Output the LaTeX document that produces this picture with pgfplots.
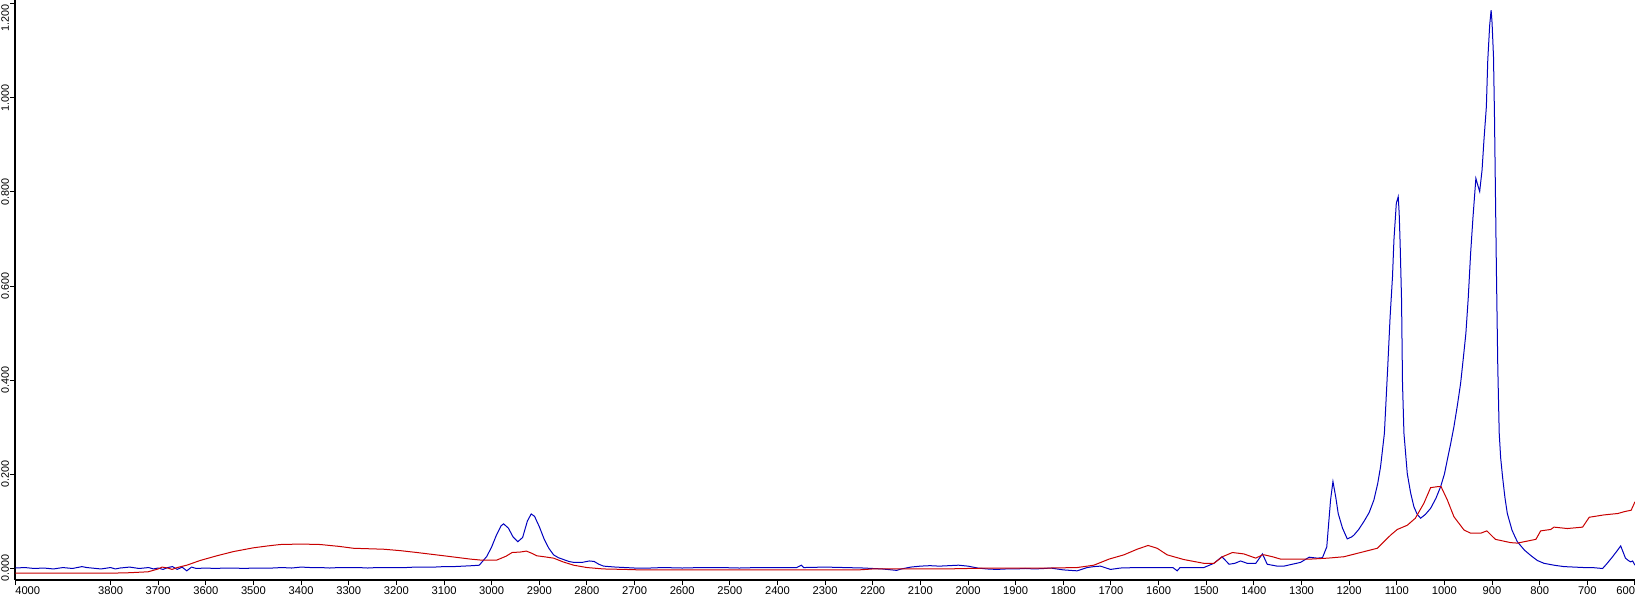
\documentclass[border=0pt]{standalone}
\usepackage{fontspec}
\setmainfont{Liberation Sans}
\usepackage{pgfplots}
\pgfplotsset{compat=1.18}
\definecolor{specblue}{RGB}{0,0,190}
\definecolor{specred}{RGB}{200,0,0}
\begin{document}
\begin{tikzpicture}
\begin{axis}[
  at={(0,0)}, anchor=south west,
  scale only axis, width=809.85pt, height=290pt,
  x dir=reverse, xmin=600, xmax=4000, ymin=-0.0255, ymax=1.2085,
  axis x line*=bottom, axis y line*=left,
  axis line style={line width=1pt, black},
  tick align=outside, major tick length=2.5pt,
  tick style={black, line width=0.5pt},
  /pgf/number format/assume math mode=true,
  xtick={4000,3800,3700,3600,3500,3400,3300,3200,3100,3000,2900,2800,2700,2600,2500,2400,2300,2200,2100,2000,1900,1800,1700,1600,1500,1400,1300,1200,1100,1000,900,800,700,600},
  xticklabels={\makebox[0pt][l]{4000},3800,3700,3600,3500,3400,3300,3200,3100,3000,2900,2800,2700,2600,2500,2400,2300,2200,2100,2000,1900,1800,1700,1600,1500,1400,1300,1200,1100,1000,900,800,700,\makebox[0pt][r]{600}},
  ytick={0,0.2,0.4,0.6,0.8,1.0,1.2},
  yticklabels={0.000,0.200,0.400,0.600,0.800,1.000,\makebox[0pt][r]{1.200}},
  yticklabel style={rotate=90, anchor=south, font=\fontsize{5.4}{6}\selectfont, inner sep=0.4pt},
  xticklabel style={anchor=north, font=\fontsize{5.6}{6}\selectfont, inner sep=0.5pt},
]
\addplot[specblue, line width=0.5pt] coordinates {
(4000,0.000)(3980,0.001)(3960,-0.001)(3940,0.000)(3920,-0.002)(3900,0.001)(3880,-0.001)(3860,0.003)(3850,0.001)(3840,0.000)(3820,-0.002)(3800,0.001)(3790,-0.002)(3780,0.000)(3760,0.002)(3740,-0.001)(3720,0.001)(3710,-0.002)(3700,0.000)(3690,-0.003)(3680,0.001)(3670,0.003)(3660,-0.003)(3650,0.002)(3640,-0.006)(3630,0.002)(3620,-0.001)(3600,0.000)(3580,-0.001)(3560,0.000)(3540,0.000)(3520,-0.001)(3500,0.000)(3480,0.000)(3460,0.000)(3440,0.001)(3420,0.000)(3400,0.002)(3380,0.001)(3360,0.001)(3340,0.000)(3320,0.001)(3300,0.001)(3280,0.001)(3260,0.000)(3240,0.001)(3220,0.001)(3200,0.001)(3180,0.001)(3160,0.002)(3140,0.002)(3120,0.002)(3100,0.003)(3080,0.003)(3060,0.004)(3040,0.005)(3026,0.006)(3010,0.025)(3000,0.045)(2990,0.070)(2980,0.090)(2975,0.094)(2965,0.085)(2955,0.066)(2945,0.056)(2935,0.065)(2925,0.100)(2917,0.115)(2910,0.110)(2900,0.088)(2890,0.062)(2880,0.042)(2870,0.028)(2860,0.022)(2849,0.018)(2838,0.014)(2828,0.012)(2810,0.012)(2795,0.015)(2785,0.014)(2775,0.008)(2765,0.004)(2740,0.002)(2700,0.000)(2667,0.000)(2640,0.001)(2600,0.000)(2560,0.001)(2520,0.001)(2480,0.000)(2440,0.001)(2400,0.001)(2360,0.001)(2350,0.006)(2345,0.001)(2300,0.002)(2260,0.001)(2220,0.000)(2200,-0.001)(2180,-0.002)(2160,-0.004)(2150,-0.005)(2140,-0.002)(2120,0.002)(2100,0.004)(2080,0.005)(2060,0.004)(2040,0.005)(2020,0.006)(2000,0.004)(1980,0.000)(1960,-0.002)(1940,-0.003)(1920,-0.002)(1900,-0.002)(1880,-0.001)(1860,-0.002)(1840,-0.001)(1827,0.000)(1800,-0.004)(1771,-0.006)(1750,0.001)(1736,0.003)(1722,0.004)(1701,-0.003)(1680,0.000)(1645,0.001)(1600,0.001)(1570,0.001)(1561,-0.006)(1555,0.001)(1505,0.001)(1484,0.010)(1467,0.024)(1452,0.008)(1440,0.010)(1428,0.015)(1414,0.010)(1396,0.010)(1382,0.030)(1372,0.008)(1351,0.004)(1337,0.004)(1302,0.012)(1284,0.023)(1267,0.021)(1256,0.022)(1247,0.045)(1239,0.145)(1234,0.184)(1228,0.150)(1223,0.116)(1214,0.085)(1204,0.062)(1195,0.066)(1190,0.070)(1180,0.082)(1169,0.099)(1158,0.118)(1148,0.145)(1140,0.180)(1134,0.216)(1126,0.287)(1119,0.428)(1114,0.535)(1109,0.620)(1106,0.698)(1101,0.776)(1097,0.790)(1095,0.755)(1093,0.691)(1090,0.570)(1088,0.393)(1085,0.287)(1078,0.201)(1071,0.160)(1064,0.130)(1057,0.114)(1050,0.106)(1040,0.114)(1029,0.127)(1018,0.148)(1008,0.173)(1000,0.200)(994,0.230)(987,0.264)(980,0.301)(973,0.345)(966,0.393)(960,0.450)(955,0.499)(950,0.575)(945,0.670)(940,0.747)(934,0.829)(931,0.818)(926,0.801)(921,0.847)(917,0.911)(912,0.981)(909,1.081)(905,1.155)(902,1.187)(900,1.160)(897,1.088)(895,0.967)(893,0.804)(891,0.641)(890,0.570)(888,0.428)(885,0.287)(882,0.235)(878,0.194)(873,0.150)(868,0.116)(858,0.080)(847,0.056)(832,0.038)(818,0.026)(805,0.016)(791,0.010)(770,0.006)(749,0.003)(728,0.002)(707,0.001)(690,0.001)(668,-0.001)(660,0.008)(647,0.024)(638,0.036)(630,0.047)(625,0.034)(620,0.021)(614,0.016)(609,0.013)(605,0.015)(600,0.006)
};
\addplot[specred, line width=0.5pt] coordinates {
(4000,-0.011)(3900,-0.011)(3800,-0.011)(3760,-0.010)(3721,-0.008)(3700,-0.002)(3692,0.002)(3680,0.000)(3671,-0.003)(3660,0.001)(3640,0.006)(3612,0.016)(3577,0.026)(3542,0.035)(3500,0.043)(3470,0.047)(3444,0.050)(3400,0.051)(3360,0.050)(3320,0.046)(3290,0.042)(3227,0.040)(3192,0.037)(3157,0.033)(3100,0.026)(3045,0.019)(3024,0.017)(2989,0.017)(2970,0.025)(2957,0.033)(2940,0.034)(2927,0.036)(2915,0.031)(2905,0.026)(2890,0.024)(2870,0.021)(2850,0.013)(2828,0.006)(2800,0.001)(2765,-0.002)(2720,-0.003)(2688,-0.004)(2600,-0.004)(2500,-0.004)(2400,-0.004)(2300,-0.004)(2230,-0.004)(2200,-0.002)(2150,-0.002)(2100,-0.002)(2050,-0.002)(2000,-0.001)(1950,0.000)(1900,0.000)(1850,0.000)(1827,0.000)(1771,0.001)(1736,0.006)(1704,0.019)(1673,0.028)(1645,0.040)(1622,0.048)(1603,0.042)(1582,0.028)(1547,0.018)(1505,0.010)(1484,0.010)(1466,0.024)(1445,0.033)(1421,0.030)(1396,0.021)(1382,0.028)(1378,0.028)(1361,0.024)(1344,0.019)(1310,0.019)(1281,0.019)(1245,0.021)(1211,0.024)(1176,0.033)(1141,0.042)(1113,0.070)(1099,0.082)(1078,0.091)(1061,0.106)(1043,0.138)(1029,0.171)(1015,0.173)(1007,0.173)(994,0.145)(980,0.109)(959,0.081)(945,0.074)(924,0.074)(911,0.079)(893,0.061)(861,0.054)(847,0.053)(808,0.061)(798,0.079)(777,0.082)(770,0.087)(742,0.084)(710,0.087)(696,0.108)(665,0.113)(636,0.116)(622,0.120)(608,0.123)(600,0.141)
};
\coordinate (bl) at (axis cs:4000,-0.0255);
\coordinate (tr) at (axis cs:600,1.2085);
\end{axis}
\pgfresetboundingbox
\path[use as bounding box] ([xshift=-7.65pt,yshift=-10pt]bl) rectangle ([xshift=1.5pt]tr);
\end{tikzpicture}
\end{document}
